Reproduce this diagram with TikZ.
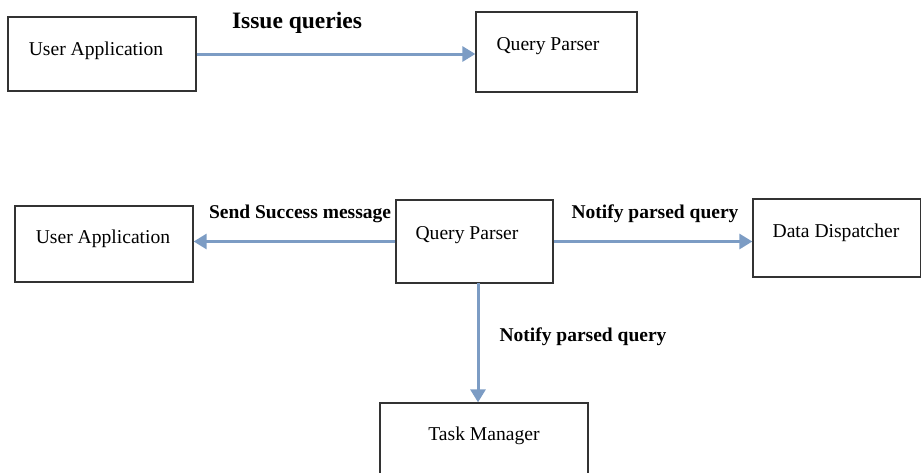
\documentclass[tikz,border=0pt]{standalone}
\usepackage{fontspec}
\setmainfont{Liberation Serif}
\usetikzlibrary{arrows.meta}
\definecolor{arrowblue}{HTML}{7C9CC4}
\definecolor{boxline}{HTML}{333333}
\begin{document}
\begin{tikzpicture}[x=1pt,y=-1pt,
  box/.style={draw=boxline, line width=1.3pt, rectangle, inner sep=0pt},
  txt/.style={inner sep=0pt, font=\fontsize{19.6}{22}\selectfont},
  lbl/.style={inner sep=0pt, font=\fontsize{19.5}{22}\selectfont\bfseries},
  flow/.style={draw=arrowblue, line width=3pt, -{Triangle[length=13pt,width=15pt]}}]
\useasboundingbox (0,0) rectangle (921,472);
% top row
\node[box, minimum width=188pt, minimum height=74pt] (ua1) at (102,54) {};
\node[txt] at (96,51) {User Application};
\node[box, minimum width=161pt, minimum height=80pt] (qp1) at (556.5,52) {};
\node[txt] at (548,46) {Query Parser};
\draw[flow] (ua1.east) -- (ua1.east -| qp1.west);
\node[lbl, font=\fontsize{23.5}{26}\selectfont\bfseries] at (297,23) {Issue queries};
% bottom row
\node[box, minimum width=178pt, minimum height=76pt] (ua2) at (104,244) {};
\node[txt] at (103,239) {User Application};
\node[box, minimum width=157pt, minimum height=83pt] (qp2) at (474.5,241.5) {};
\node[txt] at (467,235) {Query Parser};
\node[box, minimum width=168pt, minimum height=78pt] (dd) at (837,238) {};
\node[txt] at (836,233) {Data Dispatcher};
\node[box, minimum width=208pt, minimum height=80pt] (tm) at (484,443) {};
\node[txt] at (484,436) {Task Manager};
\coordinate (qpdown) at (478,283);
\draw[flow] (qp2.west) -- (qp2.west -| ua2.east);
\draw[flow] (qp2.east) -- (qp2.east -| dd.west);
\draw[flow] (qpdown) -- (qpdown |- tm.north);
\node[lbl] at (300,214) {Send Success message};
\node[lbl] at (655,214) {Notify parsed query};
\node[lbl] at (583,337) {Notify parsed query};
\end{tikzpicture}
\end{document}
